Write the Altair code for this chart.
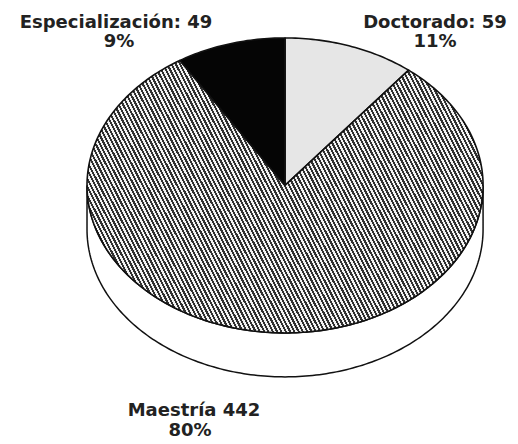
import altair as alt
import numpy as np
import pandas as pd

# ---- data ----
categories = ["Doctorado", "Maestría", "Especialización"]
values = [59, 442, 49]
label_main = ["Doctorado: 59", "Maestría 442", "Especialización: 49"]
label_pct = ["11%", "80%", "9%"]

# ---- build wedge outlines on the unit circle (mapped to an ellipse by the scales) ----
total = sum(values)
rows = []
start = 0.0
for cat, v in zip(categories, values):
    f0, f1 = start / total, (start + v) / total
    n = max(3, int(round(360 * (f1 - f0))) + 1)
    order = 0
    rows.append({"cat": cat, "o": order, "u": 0.0, "v": 0.0})
    for f in np.linspace(f0, f1, n):
        order += 1
        phi = np.deg2rad(90 - 360 * f)
        rows.append({"cat": cat, "o": order, "u": float(np.cos(phi)), "v": float(np.sin(phi))})
    rows.append({"cat": cat, "o": order + 1, "u": 0.0, "v": 0.0})
    start += v
wedges = pd.DataFrame(rows)

# side wall of the 3-D pie (lower half of the rim, extruded downwards)
DEPTH = 0.298
side_rows = []
k = 0
for a in np.linspace(180, 360, 181):
    side_rows.append({"o": k, "u": float(np.cos(np.deg2rad(a))), "v": float(np.sin(np.deg2rad(a)))})
    k += 1
for a in np.linspace(360, 180, 181):
    side_rows.append({"o": k, "u": float(np.cos(np.deg2rad(a))), "v": float(np.sin(np.deg2rad(a))) - DEPTH})
    k += 1
side_rows.append({"o": k, "u": -1.0, "v": 0.0})
side = pd.DataFrame(side_rows)

W, H = 502, 436
xscale = alt.Scale(domain=[-1.399, 1.136], nice=False, zero=False)
yscale = alt.Scale(domain=[-1.753, 1.203], nice=False, zero=False)

def enc():
    return dict(
        x=alt.X("u:Q", scale=xscale, axis=None),
        y=alt.Y("v:Q", scale=yscale, axis=None),
        order=alt.Order("o:Q"),
    )

# hatch pattern built as a hard-stop linear gradient
n_str = 124
stops = []
for i in range(n_str):
    a, b, c = i / n_str, (i + 0.5) / n_str, (i + 1) / n_str
    stops += [
        {"offset": a, "color": "#303030"},
        {"offset": b, "color": "#303030"},
        {"offset": b, "color": "#f2f2f2"},
        {"offset": c, "color": "#f2f2f2"},
    ]
hatch = {"gradient": "linear", "stops": stops, "x1": 0, "y1": 1, "x2": 1.203, "y2": 0.58}

fills = {"Doctorado": "#e6e6e6", "Maestría": hatch, "Especialización": "#050505"}

layers = []
layers.append(
    alt.Chart(side).mark_line(fill="#ffffff", stroke="#111111", strokeWidth=1.5).encode(**enc())
)
for cat in categories:
    layers.append(
        alt.Chart(wedges)
        .transform_filter(alt.datum.cat == cat)
        .mark_line(fill=fills[cat], stroke="#111111", strokeWidth=1.6, strokeJoin="round")
        .encode(**enc())
    )

# label placement (pixels)
pos_main = {"Doctorado": (427, 20), "Maestría": (186, 408), "Especialización": (108, 20)}
pos_pct = {"Doctorado": (427, 39), "Maestría": (182, 428), "Especialización": (111, 39)}
for cat, m, p in zip(categories, label_main, label_pct):
    for txt, (px, py) in ((m, pos_main[cat]), (p, pos_pct[cat])):
        layers.append(
            alt.Chart(pd.DataFrame({"t": [txt]}))
            .mark_text(font="DejaVu Sans", fontSize=18, fontWeight="bold", color="#222222",
                       align="center", baseline="alphabetic")
            .encode(text="t:N", x=alt.value(px), y=alt.value(py))
        )

chart = (
    alt.layer(*layers)
    .properties(width=W, height=H, padding=0, autosize=alt.AutoSizeParams(type="none"))
    .configure_view(stroke=None)
)

chart.save("out.html", embed_options={"renderer": "svg", "actions": False})
